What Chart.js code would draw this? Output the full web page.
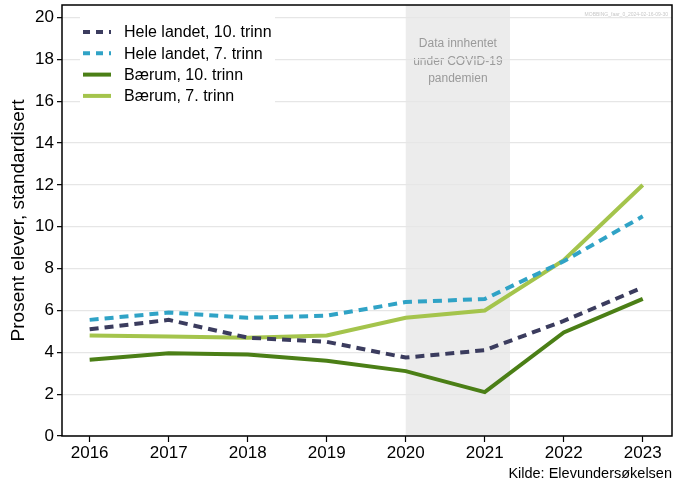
<!DOCTYPE html>
<html>
<head>
<meta charset="utf-8">
<script src="https://cdn.jsdelivr.net/npm/chart.js@4"></script>
<style>
  html, body { margin: 0; padding: 0; background: #fff; }
  #wrap { position: relative; width: 686px; height: 482px; }
  #caption { position: absolute; right: 14px; top: 465px; font: 14.5px "Liberation Sans", Arial, sans-serif; color: #000; }
  #stamp { position: absolute; right: 18px; top: 11px; font: 5px "Liberation Sans", Arial, sans-serif; color: #c8c8c8; }
</style>
</head>
<body>
<div id="wrap">
  <canvas id="chart" width="686" height="482"></canvas>
  <div id="stamp">MOBBING_faar_0_2024-02-16-09-30</div>
  <div id="caption">Kilde: Elevundersøkelsen</div>
</div>
<script>
  const YEARS = [2016, 2017, 2018, 2019, 2020, 2021, 2022, 2023];
  const HELE_10 = [5.1, 5.55, 4.7, 4.5, 3.75, 4.1, 5.5, 7.1];
  const HELE_7 = [5.55, 5.9, 5.65, 5.75, 6.4, 6.55, 8.35, 10.5];
  const BAERUM_10 = [3.65, 3.95, 3.9, 3.6, 3.1, 2.1, 4.95, 6.55];
  const BAERUM_7 = [4.8, 4.75, 4.7, 4.8, 5.65, 6.0, 8.4, 12.0];
  const COVID_RANGE = [2020, 2021.32];
  const COVID_TEXT = ["Data innhentet", "under COVID-19", "pandemien"];

  const FONT = "'Liberation Sans', Arial, sans-serif";

  function series(label, values, color, dashed) {
    return {
      label: label,
      data: YEARS.map((y, i) => ({ x: y, y: values[i] })),
      borderColor: color,
      backgroundColor: color,
      borderWidth: 4,
      borderDash: dashed ? [9, 6] : [],
      pointRadius: 0,
      tension: 0,
      fill: false,
    };
  }

  const datasets = [
    series("Hele landet, 10. trinn", HELE_10, "#3b3c5e", true),
    series("Hele landet, 7. trinn", HELE_7, "#30a3c6", true),
    series("Bærum, 10. trinn", BAERUM_10, "#4b7f16", false),
    series("Bærum, 7. trinn", BAERUM_7, "#a4c44c", false),
  ];

  // grey band for the covid years, with its note
  const covidBand = {
    id: "covidBand",
    beforeDraw(chart) {
      const { ctx, chartArea, scales } = chart;
      const x0 = scales.x.getPixelForValue(COVID_RANGE[0]);
      const x1 = scales.x.getPixelForValue(COVID_RANGE[1]);
      ctx.save();
      ctx.fillStyle = "#ececec";
      ctx.fillRect(x0, chartArea.top, x1 - x0, chartArea.bottom - chartArea.top);
      ctx.fillStyle = "#9a9a9a";
      ctx.font = "12px " + FONT;
      ctx.textAlign = "center";
      ctx.textBaseline = "middle";
      COVID_TEXT.forEach((t, i) => ctx.fillText(t, (x0 + x1) / 2, chartArea.top + 39 + i * 17.5));
      ctx.restore();
    },
  };

  // box round the plot and the legend in the top left corner
  const frameAndLegend = {
    id: "frameAndLegend",
    afterDraw(chart) {
      const { ctx, chartArea } = chart;
      ctx.save();
      const lx = chartArea.left + 18;
      ctx.fillStyle = "#fff";
      ctx.fillRect(lx, chartArea.top + 10, 195, 96);
      ctx.font = "16px " + FONT;
      ctx.textBaseline = "middle";
      chart.data.datasets.forEach((ds, i) => {
        const y = chartArea.top + 27 + i * 21.3;
        ctx.strokeStyle = ds.borderColor;
        ctx.lineWidth = 4;
        ctx.setLineDash(ds.borderDash.length ? [7, 6] : []);
        ctx.beginPath();
        ctx.moveTo(lx + 3, y);
        ctx.lineTo(lx + 31, y);
        ctx.stroke();
        ctx.fillStyle = "#000";
        ctx.fillText(ds.label, lx + 44, y + 1);
      });
      ctx.setLineDash([]);
      ctx.strokeStyle = "#000";
      ctx.lineWidth = 1.5;
      ctx.strokeRect(chartArea.left, chartArea.top, chartArea.right - chartArea.left, chartArea.bottom - chartArea.top);
      ctx.restore();
    },
  };

  new Chart(document.getElementById("chart"), {
    type: "line",
    data: { datasets },
    plugins: [covidBand, frameAndLegend],
    options: {
      responsive: false,
      animation: false,
      layout: { padding: { left: 7, top: 5, right: 14, bottom: 0 } },
      plugins: { legend: { display: false }, tooltip: { enabled: false } },
      scales: {
        x: {
          type: "linear",
          min: 2015.65,
          max: 2023.37,
          afterBuildTicks: (scale) => {
            scale.ticks = YEARS.map((v) => ({ value: v }));
          },
          afterFit: (scale) => {
            scale.height = 46;
          },
          grid: { drawOnChartArea: false, drawTicks: true, tickLength: 6, tickColor: "#000", tickWidth: 1.2 },
          border: { display: false },
          ticks: {
            color: "#000",
            font: { size: 17, family: FONT },
            padding: 1,
            maxRotation: 0,
            callback: (v) => String(v),
          },
        },
        y: {
          min: 0,
          max: 20.6,
          afterBuildTicks: (scale) => {
            const t = [];
            for (let v = 0; v <= 20; v++) t.push({ value: v });
            scale.ticks = t;
          },
          afterFit: (scale) => {
            scale.width = 55;
            scale.paddingTop = 0;
          },
          grid: {
            color: (c) => (c.tick && c.tick.value % 2 ? "#e8e8e8" : "#e6e6e6"),
            lineWidth: (c) => (c.tick && c.tick.value % 2 ? 1 : 1.3),
            tickColor: (c) => (c.tick && c.tick.value % 2 ? "rgba(0,0,0,0)" : "#000"),
            tickLength: 5,
            tickWidth: 1.2,
          },
          border: {
            display: false,
            dash: (c) => (c.tick && c.tick.value % 2 ? [1.5, 2.5] : []),
          },
          ticks: {
            color: "#000",
            font: { size: 17, family: FONT },
            padding: 3,
            callback: (v) => (v % 2 ? "" : String(v)),
          },
          title: {
            display: true,
            text: "Prosent elever, standardisert",
            color: "#000",
            font: { size: 19, family: FONT },
            padding: { top: 0, bottom: 0 },
          },
        },
      },
    },
  });
</script>
</body>
</html>
